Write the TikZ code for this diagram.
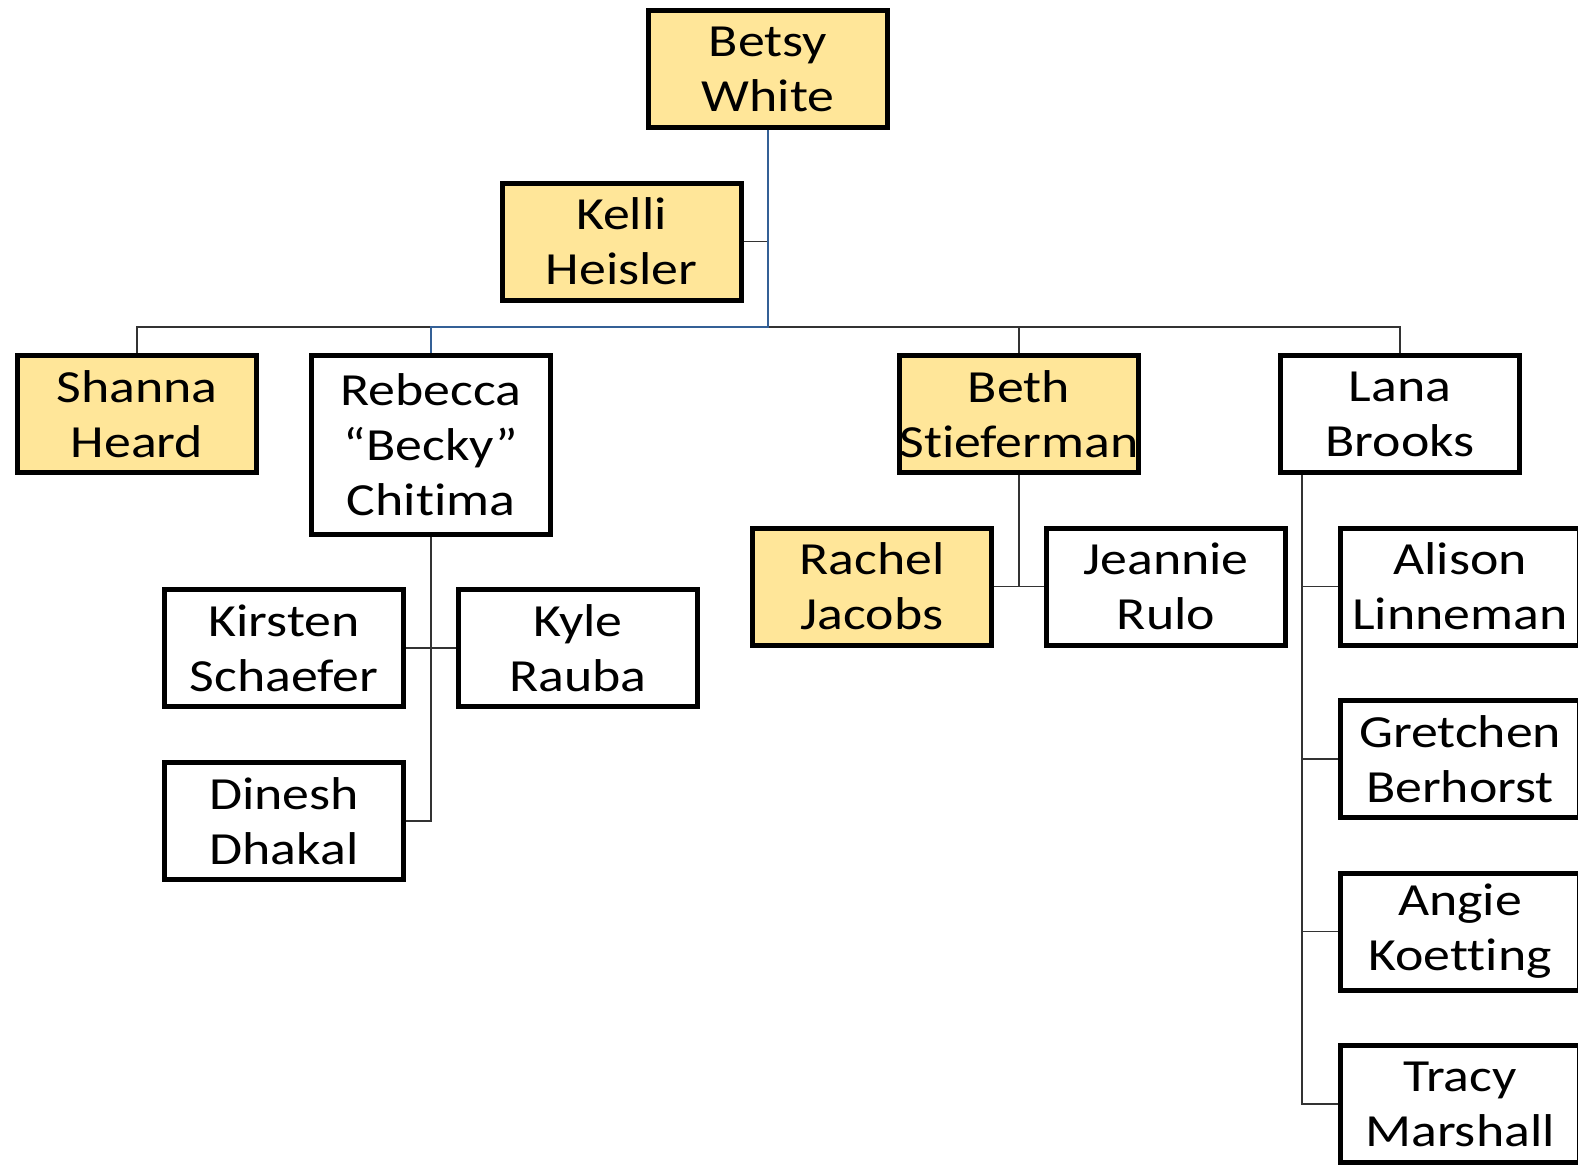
\documentclass[tikz,border=0pt]{standalone}
\usepackage{fontspec}
\setmainfont[Ligatures={NoCommon},FakeStretch=1.17]{Carlito}
\usepackage{tikz}
\definecolor{boxyellow}{HTML}{FFE699}
\definecolor{linkblue}{RGB}{52,96,150}

\begin{document}
\begin{tikzpicture}[x=0.5pt,y=-0.5pt,
person/.style={draw,line width=2.5pt,fill=white,align=center,
  minimum width=119.5pt,minimum height=58.5pt,inner sep=0pt,
  font=\fontsize{23}{27.5}\selectfont},
lead/.style={person,fill=boxyellow},
link/.style={line width=0.75pt,black!80},
hilite/.style={line width=0.9pt,linkblue}]%
\useasboundingbox (0,0) rectangle (1578,1168);
\clip (0,0) rectangle (1578,1168);
% top level
\node[lead] (betsy) at (768,69) {Betsy\\White};
\node[lead] (kelli) at (621.5,241.5) {Kelli\\Heisler};
\coordinate (bus) at (768,327);
% second level
\node[lead] (shanna) at (137,414) {Shanna\\Heard};
\node[person,minimum height=89.5pt] (becky) at (431,445) {Rebecca\\“Becky”\\Chitima};
\node[lead] (beth) at (1019,414) {Beth\\Stieferman};
\node[person] (lana) at (1400,414) {Lana\\Brooks};
% third level
\node[person] (kirsten) at (284,648) {Kirsten\\Schaefer};
\node[person] (kyle) at (578,648) {Kyle\\Rauba};
\node[person] (dinesh) at (284,821) {Dinesh\\Dhakal};
\node[lead] (rachel) at (872,586.5) {Rachel\\Jacobs};
\node[person] (jeannie) at (1166,586.5) {Jeannie\\Rulo};
\node[person] (alison) at (1460,586.5) {Alison\\Linneman};
\node[person] (gretchen) at (1460,759) {Gretchen\\Berhorst};
\node[person] (angie) at (1460,931.5) {Angie\\Koetting};
\node[person] (tracy) at (1460,1104) {Tracy\\Marshall};
% connectors
\draw[link] (shanna.north) |- (bus) -| (lana.north);
\draw[link] (beth.north) -- (beth.north |- bus);
\draw[link] (kelli.east) -- (kelli.east -| betsy.south);
\draw[hilite] (betsy.south) -- (bus) -| (becky.north);
\draw[link] (becky.south) |- (dinesh.east);
\draw[link] (kirsten.east) -- (kyle.west);
\draw[link] (beth.south) -- (beth.south |- rachel.east);
\draw[link] (rachel.east) -- (jeannie.west);
\coordinate (trunk) at ([xshift=12pt]lana.south west);
\draw[link] (trunk) |- (tracy.west);
\foreach \n in {alison,gretchen,angie}
  \draw[link] (\n.west) -- (\n.west -| trunk);
\end{tikzpicture}
\end{document}
